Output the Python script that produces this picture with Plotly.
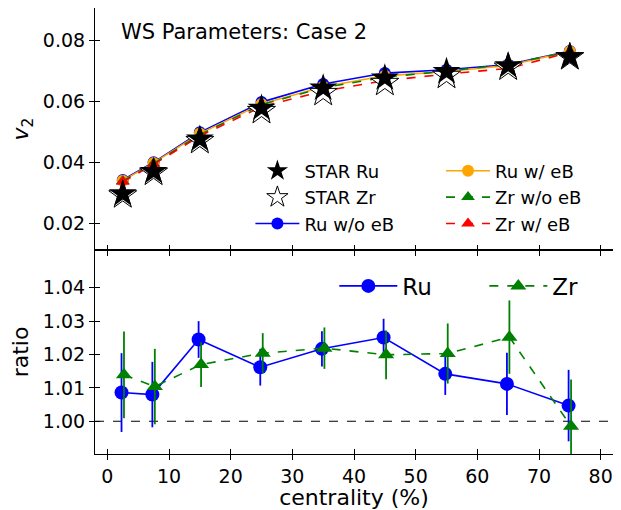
import plotly.graph_objects as go

# ---------------- data ----------------
centrality = [2.5, 7.5, 15, 25, 35, 45, 55, 65, 75]

star_ru = [0.0297, 0.0370, 0.0476, 0.0577, 0.0643, 0.0676, 0.0697, 0.0716, 0.0745]
star_zr = [0.0292, 0.0366, 0.0470, 0.0568, 0.0627, 0.0660, 0.0683, 0.0710, 0.0744]
ru_wo_eb = [0.0342, 0.0400, 0.0498, 0.0597, 0.0656, 0.0692, 0.0703, 0.0720, 0.0764]
ru_w_eb = [0.0340, 0.0398, 0.0494, 0.0591, 0.0647, 0.0683, 0.0697, 0.0717, 0.0763]
zr_wo_eb = [0.0339, 0.0396, 0.0490, 0.0589, 0.0644, 0.0679, 0.0698, 0.0721, 0.0762]
zr_w_eb = [0.0336, 0.0393, 0.0486, 0.0582, 0.0633, 0.0667, 0.0689, 0.0707, 0.0760]
model_err = [0.0004, 0.0004, 0.0004, 0.0004, 0.0004, 0.0004, 0.0004, 0.0004, 0.0004]

ratio_ru = [1.0086, 1.0080, 1.0245, 1.0162, 1.0217, 1.0251, 1.0142, 1.0112, 1.0047]
ratio_ru_err = [0.0118, 0.0098, 0.0055, 0.0055, 0.0053, 0.0056, 0.0063, 0.0093, 0.0107]
ratio_zr = [1.0139, 1.0104, 1.0170, 1.0204, 1.0219, 1.0199, 1.0203, 1.0252, 0.9985]
ratio_zr_err = [0.0130, 0.0113, 0.0067, 0.0060, 0.0062, 0.0073, 0.0090, 0.0110, 0.0140]

xticks = [0, 10, 20, 30, 40, 50, 60, 70, 80]
top_yticks = [0.02, 0.04, 0.06, 0.08]
bot_yticks = [1.00, 1.01, 1.02, 1.03, 1.04]

# ---------------- style ----------------
FONT = "DejaVu Sans"
XR = [-2, 82]
TOP_YR = [0.0113, 0.0905]
BOT_YR = [0.9902, 1.0513]
SPLIT = 0.4574
shift = 0.2
# page body has an 8px default margin; figure sized to fill the rest of the window
W, H = 613, 502

fig = go.Figure()

def model(name, y, color, dash, symbol, legend, rank):
    fig.add_trace(go.Scatter(
        x=centrality, y=y, name=name, mode="lines+markers",
        line=dict(color=color, width=1.6, dash=dash),
        marker=dict(color=color, size=12, symbol=symbol),
        error_y=dict(type="data", array=model_err, color=color, thickness=1.5, width=0),
        xaxis="x", yaxis="y", legend=legend, legendrank=rank))

model("Ru w/o eB", ru_wo_eb, "#0000ff", "solid", "circle", "legend", 3)
model("Ru w/ eB", ru_w_eb, "#ffa500", "solid", "circle", "legend2", 4)
model("Zr w/o eB", zr_wo_eb, "#008000", "dash", "triangle-up", "legend2", 5)
model("Zr w/ eB", zr_w_eb, "#ff0000", "dash", "triangle-up", "legend2", 6)

fig.add_trace(go.Scatter(
    x=centrality, y=star_zr, name="STAR Zr", mode="markers",
    marker=dict(color="white", size=21, symbol="star", line=dict(color="black", width=1)),
    xaxis="x", yaxis="y", legend="legend", legendrank=2))
fig.add_trace(go.Scatter(
    x=centrality, y=star_ru, name="STAR Ru", mode="markers",
    marker=dict(color="black", size=21, symbol="star", line=dict(color="black", width=0)),
    xaxis="x", yaxis="y", legend="legend", legendrank=1))

# bottom panel
fig.add_trace(go.Scatter(
    x=[c - shift for c in centrality], y=ratio_ru, name="Ru", mode="lines+markers",
    line=dict(color="#0000ff", width=1.6),
    marker=dict(color="#0000ff", size=14, symbol="circle"),
    error_y=dict(type="data", array=ratio_ru_err, color="#0000ff", thickness=1.8, width=0),
    xaxis="x2", yaxis="y2", legend="legend3"))
fig.add_trace(go.Scatter(
    x=[c + shift for c in centrality], y=ratio_zr, name="Zr", mode="lines+markers",
    line=dict(color="#008000", width=1.6, dash="dash"),
    marker=dict(color="#008000", size=14, symbol="triangle-up"),
    error_y=dict(type="data", array=ratio_zr_err, color="#008000", thickness=1.8, width=0),
    xaxis="x2", yaxis="y2", legend="legend3"))

# dummy traces for inward tick overlay axes
fig.add_trace(go.Scatter(x=[None], y=[None], xaxis="x3", yaxis="y3", showlegend=False, hoverinfo="skip"))
fig.add_trace(go.Scatter(x=[None], y=[None], xaxis="x4", yaxis="y4", showlegend=False, hoverinfo="skip"))

tickfont = dict(family=FONT, size=19, color="black")
axline = dict(showline=True, linecolor="black", linewidth=1.1, mirror=True,
              showgrid=False, zeroline=False, automargin=False)
outticks = dict(ticks="outside", ticklen=5, tickwidth=1.1, tickcolor="black")
inticks = dict(ticks="inside", ticklen=5, tickwidth=1.1, tickcolor="black", automargin=False,
               showline=False, showgrid=False, zeroline=False, showticklabels=False)

fig.update_layout(
    width=W, height=H,
    margin=dict(l=87, r=8, t=0, b=56, autoexpand=False),
    paper_bgcolor="white", plot_bgcolor="white",
    font=dict(family=FONT, color="black"),
    xaxis=dict(domain=[0, 1], anchor="y", range=XR, tickvals=xticks, showticklabels=False,
               **axline, **outticks),
    yaxis=dict(domain=[SPLIT, 1], anchor="x", range=TOP_YR, tickvals=top_yticks,
               tickformat=".2f", tickfont=tickfont,
               title=dict(text="<i>v</i><sub>2</sub>", font=dict(family=FONT, size=22), standoff=8),
               **axline, **outticks),
    xaxis2=dict(domain=[0, 1], anchor="y2", range=XR, tickvals=xticks, tickfont=tickfont,
                title=dict(text="centrality (%)", font=dict(family=FONT, size=22), standoff=2),
                **axline, **outticks),
    yaxis2=dict(domain=[0, SPLIT], anchor="x2", range=BOT_YR, tickvals=bot_yticks,
                tickformat=".2f", tickfont=tickfont,
                title=dict(text="ratio", font=dict(family=FONT, size=22), standoff=8),
                **axline, **outticks),
    xaxis3=dict(overlaying="x", anchor="y3", range=XR, tickvals=xticks, **inticks),
    yaxis3=dict(overlaying="y", anchor="x3", range=TOP_YR, tickvals=top_yticks, **inticks),
    xaxis4=dict(overlaying="x2", anchor="y4", range=XR, tickvals=xticks, **inticks),
    yaxis4=dict(overlaying="y2", anchor="x4", range=BOT_YR, tickvals=bot_yticks, **inticks),
    legend=dict(x=0.300, y=0.676, xref="paper", yref="paper", xanchor="left", yanchor="top",
                bgcolor="rgba(0,0,0,0)", font=dict(family=FONT, size=18), traceorder="normal",
                itemwidth=44),
    legend2=dict(x=0.668, y=0.676, xref="paper", yref="paper", xanchor="left", yanchor="top",
                 bgcolor="rgba(0,0,0,0)", font=dict(family=FONT, size=18), traceorder="normal",
                 itemwidth=44),
    legend3=dict(x=0.462, y=0.425, xref="paper", yref="paper", xanchor="left", yanchor="top",
                 orientation="h", bgcolor="rgba(0,0,0,0)", font=dict(family=FONT, size=23),
                 itemwidth=58, entrywidth=77, entrywidthmode="pixels"),
    showlegend=True,
)

fig.add_shape(type="line", xref="x2 domain", yref="y2", x0=0, x1=1, y0=1.0, y1=1.0,
              line=dict(color="black", width=1.1, dash="dash"), layer="below")

fig.add_annotation(text="WS Parameters: Case 2", xref="paper", yref="paper",
                   x=(119 - 95) / 518, y=(454 - 32) / 446, xanchor="left", yanchor="middle",
                   showarrow=False, font=dict(family=FONT, size=21, color="black"))

fig.write_html("out.html")
